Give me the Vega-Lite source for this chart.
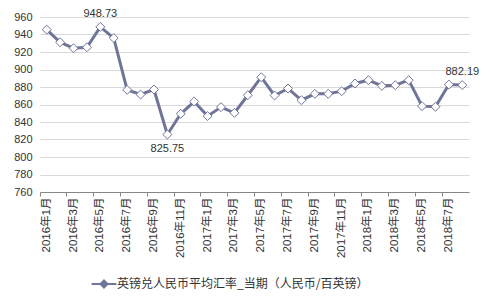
{
  "$schema": "https://vega.github.io/schema/vega-lite/v6.json",
  "width": 429,
  "height": 175,
  "autosize": {"type": "none"},
  "padding": {"left": 40, "top": 17, "right": 22, "bottom": 116},
  "background": "white",
  "config": {
    "font": "Liberation Sans, Noto Sans CJK SC",
    "view": {"stroke": null},
    "axis": {"labelFont": "Liberation Sans, Noto Sans CJK SC", "labelFontSize": 11, "labelColor": "#333333"}
  },
  "data": {"values": [
    {"月份": "2016年1月", "汇率": 945.6, "系列": "英镑兑人民币平均汇率_当期（人民币/百英镑）"},
    {"月份": "2016年2月", "汇率": 931.1, "系列": "英镑兑人民币平均汇率_当期（人民币/百英镑）"},
    {"月份": "2016年3月", "汇率": 924.3, "系列": "英镑兑人民币平均汇率_当期（人民币/百英镑）"},
    {"月份": "2016年4月", "汇率": 925.4, "系列": "英镑兑人民币平均汇率_当期（人民币/百英镑）"},
    {"月份": "2016年5月", "汇率": 948.73, "系列": "英镑兑人民币平均汇率_当期（人民币/百英镑）", "标注": "948.73"},
    {"月份": "2016年6月", "汇率": 936.0, "系列": "英镑兑人民币平均汇率_当期（人民币/百英镑）"},
    {"月份": "2016年7月", "汇率": 876.7, "系列": "英镑兑人民币平均汇率_当期（人民币/百英镑）"},
    {"月份": "2016年8月", "汇率": 871.4, "系列": "英镑兑人民币平均汇率_当期（人民币/百英镑）"},
    {"月份": "2016年9月", "汇率": 877.1, "系列": "英镑兑人民币平均汇率_当期（人民币/百英镑）"},
    {"月份": "2016年10月", "汇率": 825.75, "系列": "英镑兑人民币平均汇率_当期（人民币/百英镑）", "标注下": "825.75"},
    {"月份": "2016年11月", "汇率": 849.4, "系列": "英镑兑人民币平均汇率_当期（人民币/百英镑）"},
    {"月份": "2016年12月", "汇率": 863.4, "系列": "英镑兑人民币平均汇率_当期（人民币/百英镑）"},
    {"月份": "2017年1月", "汇率": 846.7, "系列": "英镑兑人民币平均汇率_当期（人民币/百英镑）"},
    {"月份": "2017年2月", "汇率": 857.0, "系列": "英镑兑人民币平均汇率_当期（人民币/百英镑）"},
    {"月份": "2017年3月", "汇率": 850.5, "系列": "英镑兑人民币平均汇率_当期（人民币/百英镑）"},
    {"月份": "2017年4月", "汇率": 870.6, "系列": "英镑兑人民币平均汇率_当期（人民币/百英镑）"},
    {"月份": "2017年5月", "汇率": 891.2, "系列": "英镑兑人民币平均汇率_当期（人民币/百英镑）"},
    {"月份": "2017年6月", "汇率": 870.3, "系列": "英镑兑人民币平均汇率_当期（人民币/百英镑）"},
    {"月份": "2017年7月", "汇率": 878.3, "系列": "英镑兑人民币平均汇率_当期（人民币/百英镑）"},
    {"月份": "2017年8月", "汇率": 864.9, "系列": "英镑兑人民币平均汇率_当期（人民币/百英镑）"},
    {"月份": "2017年9月", "汇率": 872.2, "系列": "英镑兑人民币平均汇率_当期（人民币/百英镑）"},
    {"月份": "2017年10月", "汇率": 872.2, "系列": "英镑兑人民币平均汇率_当期（人民币/百英镑）"},
    {"月份": "2017年11月", "汇率": 875.2, "系列": "英镑兑人民币平均汇率_当期（人民币/百英镑）"},
    {"月份": "2017年12月", "汇率": 884.0, "系列": "英镑兑人民币平均汇率_当期（人民币/百英镑）"},
    {"月份": "2018年1月", "汇率": 887.8, "系列": "英镑兑人民币平均汇率_当期（人民币/百英镑）"},
    {"月份": "2018年2月", "汇率": 881.3, "系列": "英镑兑人民币平均汇率_当期（人民币/百英镑）"},
    {"月份": "2018年3月", "汇率": 882.1, "系列": "英镑兑人民币平均汇率_当期（人民币/百英镑）"},
    {"月份": "2018年4月", "汇率": 887.8, "系列": "英镑兑人民币平均汇率_当期（人民币/百英镑）"},
    {"月份": "2018年5月", "汇率": 858.1, "系列": "英镑兑人民币平均汇率_当期（人民币/百英镑）"},
    {"月份": "2018年6月", "汇率": 857.4, "系列": "英镑兑人民币平均汇率_当期（人民币/百英镑）"},
    {"月份": "2018年7月", "汇率": 882.8, "系列": "英镑兑人民币平均汇率_当期（人民币/百英镑）"},
    {"月份": "2018年8月", "汇率": 882.19, "系列": "英镑兑人民币平均汇率_当期（人民币/百英镑）", "标注": "882.19"}
  ]},
  "encoding": {
    "y": {
      "field": "汇率", "type": "quantitative",
      "scale": {"domain": [760, 960], "nice": false, "zero": false},
      "axis": {"title": null, "values": [760, 780, 800, 820, 840, 860, 880, 900, 920, 940, 960], "domain": false, "ticks": false, "grid": true, "gridColor": "#d9d9d9", "gridWidth": 1, "labelPadding": 8}
    }
  },
  "layer": [
    {
      "mark": {"type": "line", "color": "#6f7599", "strokeWidth": 3},
      "encoding": {
        "x": {
          "field": "月份", "type": "ordinal", "sort": null,
          "scale": {"type": "band", "paddingInner": 0, "paddingOuter": 0},
          "axis": {"orient": "bottom", "title": null, "labelAngle": -90, "labelPadding": 5, "labelFontSize": 11.5, "ticks": false, "domain": true, "domainColor": "#868686", "grid": false,
            "values": ["2016年1月","2016年3月","2016年5月","2016年7月","2016年9月","2016年11月","2017年1月","2017年3月","2017年5月","2017年7月","2017年9月","2017年11月","2018年1月","2018年3月","2018年5月","2018年7月"]}
        }
      }
    },
    {
      "mark": {"type": "point", "shape": "diamond", "filled": true, "fill": "white", "stroke": "#6f7599", "strokeWidth": 1, "size": 80, "opacity": 1},
      "encoding": {
        "x": {
          "field": "月份", "type": "ordinal", "sort": null,
          "axis": {"orient": "bottom", "title": null, "labels": false, "domain": false, "grid": false, "ticks": true, "tickColor": "#868686", "tickSize": 4, "bandPosition": 0,
            "values": ["2016年1月","2016年3月","2016年5月","2016年7月","2016年9月","2016年11月","2017年1月","2017年3月","2017年5月","2017年7月","2017年9月","2017年11月","2018年1月","2018年3月","2018年5月","2018年7月"]}
        },
        "color": {
          "field": "系列", "type": "nominal",
          "scale": {"range": ["#6f7599"]},
          "legend": {"title": null, "orient": "none", "legendX": 55, "legendY": 258, "labelLimit": 0, "labelOffset": 4, "symbolType": "M-1.6,0H-0.45M0.45,0H1.6M0,-0.45L0.45,0L0,0.45L-0.45,0Z", "symbolSize": 240, "symbolFillColor": "white", "symbolStrokeColor": "#6f7599", "symbolStrokeWidth": 2, "labelFontSize": 12, "labelColor": "#333333", "labelFont": "Noto Sans CJK SC"}
        }
      }
    },
    {
      "mark": {"type": "text", "dy": -13, "fontSize": 11, "color": "#333333"},
      "transform": [{"filter": "datum['标注'] != null"}],
      "encoding": {
        "x": {"field": "月份", "type": "ordinal", "sort": null, "axis": null},
        "text": {"field": "标注"}
      }
    },
    {
      "mark": {"type": "text", "dy": 15, "fontSize": 11, "color": "#333333"},
      "transform": [{"filter": "datum['标注下'] != null"}],
      "encoding": {
        "x": {"field": "月份", "type": "ordinal", "sort": null, "axis": null},
        "text": {"field": "标注下"}
      }
    }
  ],
  "resolve": {"axis": {"x": "independent"}}
}
